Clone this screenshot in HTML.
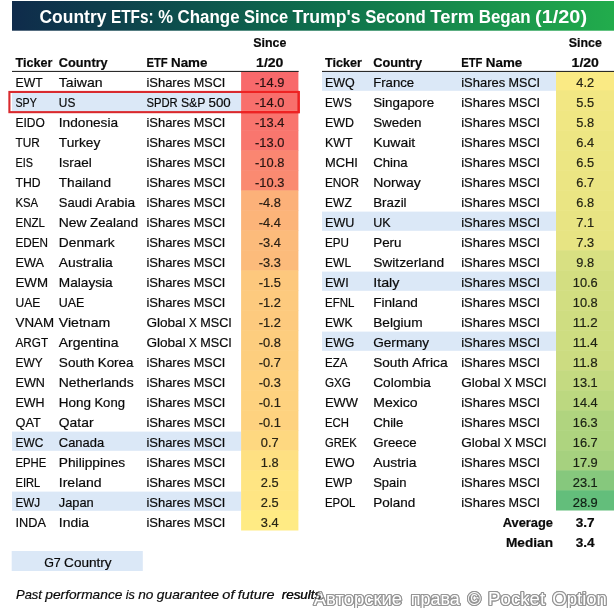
<!DOCTYPE html>
<html lang="en"><head><meta charset="utf-8"><title>Country ETFs</title>
<style>
html,body{margin:0;padding:0;background:#fff;}
body{width:614px;height:608px;overflow:hidden;}
svg{display:block;font-family:"Liberation Sans",sans-serif;}
</style></head><body>
<svg width="614" height="608" viewBox="0 0 614 608">
<defs><linearGradient id="tg" x1="0" y1="0" x2="1" y2="0"><stop offset="0" stop-color="#0f2b4b"/><stop offset="0.3" stop-color="#0d524d"/><stop offset="0.55" stop-color="#0f744c"/><stop offset="1" stop-color="#22ac4c"/></linearGradient></defs>
<rect x="12.00" y="1.00" width="602.00" height="29.70" fill="url(#tg)" />
<text y="22.70" font-size="18.0" fill="#ffffff" font-weight="bold" ><tspan x="39.50" textLength="66.92" lengthAdjust="spacingAndGlyphs">Country</tspan> <tspan x="110.98" textLength="42.72" lengthAdjust="spacingAndGlyphs">ETFs:</tspan> <tspan x="158.26" textLength="14.71" lengthAdjust="spacingAndGlyphs">%</tspan> <tspan x="177.53" textLength="62.03" lengthAdjust="spacingAndGlyphs">Change</tspan> <tspan x="244.12" textLength="43.93" lengthAdjust="spacingAndGlyphs">Since</tspan> <tspan x="292.61" textLength="68.00" lengthAdjust="spacingAndGlyphs">Trump&#x27;s</tspan> <tspan x="365.17" textLength="60.65" lengthAdjust="spacingAndGlyphs">Second</tspan> <tspan x="430.38" textLength="43.74" lengthAdjust="spacingAndGlyphs">Term</tspan> <tspan x="478.68" textLength="51.83" lengthAdjust="spacingAndGlyphs">Began</tspan> <tspan x="535.08" textLength="51.93" lengthAdjust="spacingAndGlyphs">(1/20)</tspan></text>
<rect x="241.10" y="71.60" width="57.30" height="20.50" fill="#f8696b" />
<rect x="12.00" y="91.60" width="229.10" height="20.00" fill="#dbe8f7" />
<rect x="241.10" y="90.40" width="57.30" height="20.50" fill="#f86f6c" />
<rect x="241.10" y="110.40" width="57.30" height="20.50" fill="#f9746d" />
<rect x="241.10" y="130.40" width="57.30" height="20.50" fill="#f9766e" />
<rect x="241.10" y="150.40" width="57.30" height="20.50" fill="#fa8671" />
<rect x="241.10" y="170.40" width="57.30" height="20.50" fill="#fa8a71" />
<rect x="241.10" y="190.40" width="57.30" height="20.50" fill="#fcb179" />
<rect x="241.10" y="210.40" width="57.30" height="20.50" fill="#fcb479" />
<rect x="241.10" y="230.40" width="57.30" height="20.50" fill="#fcbb7b" />
<rect x="241.10" y="250.40" width="57.30" height="20.50" fill="#fcbb7b" />
<rect x="241.10" y="270.40" width="57.30" height="20.50" fill="#fdc87d" />
<rect x="241.10" y="290.40" width="57.30" height="20.50" fill="#fdca7e" />
<rect x="241.10" y="310.40" width="57.30" height="20.50" fill="#fdca7e" />
<rect x="241.10" y="330.40" width="57.30" height="20.50" fill="#fdcd7e" />
<rect x="241.10" y="350.40" width="57.30" height="20.50" fill="#fdce7e" />
<rect x="241.10" y="370.40" width="57.30" height="20.50" fill="#fed17f" />
<rect x="241.10" y="390.40" width="57.30" height="20.50" fill="#fed27f" />
<rect x="241.10" y="410.40" width="57.30" height="20.50" fill="#fed27f" />
<rect x="12.00" y="431.60" width="229.10" height="19.20" fill="#dbe8f7" />
<rect x="241.10" y="430.40" width="57.30" height="20.50" fill="#fed880" />
<rect x="241.10" y="450.40" width="57.30" height="20.50" fill="#fee082" />
<rect x="241.10" y="470.40" width="57.30" height="20.50" fill="#ffe583" />
<rect x="12.00" y="491.60" width="229.10" height="19.20" fill="#dbe8f7" />
<rect x="241.10" y="490.40" width="57.30" height="20.50" fill="#ffe583" />
<rect x="241.10" y="510.40" width="57.30" height="20.10" fill="#ffeb84" />
<text x="253.21" y="46.50" font-size="13.2" fill="#0a0a0a" stroke="#0a0a0a" stroke-width="0.2" font-weight="bold" textLength="33.07" lengthAdjust="spacingAndGlyphs" >Since</text>
<text x="15.50" y="66.70" font-size="13.2" fill="#0a0a0a" stroke="#0a0a0a" stroke-width="0.2" font-weight="bold" textLength="36.85" lengthAdjust="spacingAndGlyphs" >Ticker</text>
<text x="58.80" y="66.70" font-size="13.2" fill="#0a0a0a" stroke="#0a0a0a" stroke-width="0.2" font-weight="bold" textLength="48.91" lengthAdjust="spacingAndGlyphs" >Country</text>
<text y="66.70" font-size="13.2" fill="#0a0a0a" stroke="#0a0a0a" stroke-width="0.2" font-weight="bold" ><tspan x="146.40" textLength="21.27" lengthAdjust="spacingAndGlyphs">ETF</tspan> <tspan x="171.00" textLength="36.42" lengthAdjust="spacingAndGlyphs">Name</tspan></text>
<text x="256.09" y="66.70" font-size="13.2" fill="#0a0a0a" stroke="#0a0a0a" stroke-width="0.2" font-weight="bold" textLength="27.33" lengthAdjust="spacingAndGlyphs" >1/20</text>
<rect x="12.00" y="70.90" width="286.70" height="1.00" fill="#151515" />
<text x="15.50" y="86.70" font-size="13.2" fill="#0a0a0a" stroke="#0a0a0a" stroke-width="0.2" textLength="27.14" lengthAdjust="spacingAndGlyphs" >EWT</text>
<text x="58.80" y="86.70" font-size="13.2" fill="#0a0a0a" stroke="#0a0a0a" stroke-width="0.2" textLength="43.73" lengthAdjust="spacingAndGlyphs" >Taiwan</text>
<text y="86.70" font-size="13.2" fill="#0a0a0a" stroke="#0a0a0a" stroke-width="0.2" ><tspan x="146.40" textLength="43.96" lengthAdjust="spacingAndGlyphs">iShares</tspan> <tspan x="193.75" textLength="31.49" lengthAdjust="spacingAndGlyphs">MSCI</tspan></text>
<text x="255.09" y="86.70" font-size="13.2" fill="#281111" stroke="#281111" stroke-width="0.2" textLength="29.32" lengthAdjust="spacingAndGlyphs" >-14.9</text>
<text x="15.50" y="106.70" font-size="13.2" fill="#0a0a0a" stroke="#0a0a0a" stroke-width="0.2" textLength="21.29" lengthAdjust="spacingAndGlyphs" >SPY</text>
<text x="58.80" y="106.70" font-size="13.2" fill="#0a0a0a" stroke="#0a0a0a" stroke-width="0.2" textLength="16.52" lengthAdjust="spacingAndGlyphs" >US</text>
<text y="106.70" font-size="13.2" fill="#0a0a0a" stroke="#0a0a0a" stroke-width="0.2" ><tspan x="146.40" textLength="31.21" lengthAdjust="spacingAndGlyphs">SPDR</tspan> <tspan x="180.92" textLength="24.25" lengthAdjust="spacingAndGlyphs">S&amp;P</tspan> <tspan x="208.48" textLength="22.24" lengthAdjust="spacingAndGlyphs">500</tspan></text>
<text x="255.09" y="106.70" font-size="13.2" fill="#281211" stroke="#281211" stroke-width="0.2" textLength="29.32" lengthAdjust="spacingAndGlyphs" >-14.0</text>
<text x="15.50" y="126.70" font-size="13.2" fill="#0a0a0a" stroke="#0a0a0a" stroke-width="0.2" textLength="29.36" lengthAdjust="spacingAndGlyphs" >EIDO</text>
<text x="58.80" y="126.70" font-size="13.2" fill="#0a0a0a" stroke="#0a0a0a" stroke-width="0.2" textLength="59.29" lengthAdjust="spacingAndGlyphs" >Indonesia</text>
<text y="126.70" font-size="13.2" fill="#0a0a0a" stroke="#0a0a0a" stroke-width="0.2" ><tspan x="146.40" textLength="43.96" lengthAdjust="spacingAndGlyphs">iShares</tspan> <tspan x="193.75" textLength="31.49" lengthAdjust="spacingAndGlyphs">MSCI</tspan></text>
<text x="255.09" y="126.70" font-size="13.2" fill="#281311" stroke="#281311" stroke-width="0.2" textLength="29.32" lengthAdjust="spacingAndGlyphs" >-13.4</text>
<text x="15.50" y="146.70" font-size="13.2" fill="#0a0a0a" stroke="#0a0a0a" stroke-width="0.2" textLength="24.33" lengthAdjust="spacingAndGlyphs" >TUR</text>
<text x="58.80" y="146.70" font-size="13.2" fill="#0a0a0a" stroke="#0a0a0a" stroke-width="0.2" textLength="41.49" lengthAdjust="spacingAndGlyphs" >Turkey</text>
<text y="146.70" font-size="13.2" fill="#0a0a0a" stroke="#0a0a0a" stroke-width="0.2" ><tspan x="146.40" textLength="43.96" lengthAdjust="spacingAndGlyphs">iShares</tspan> <tspan x="193.75" textLength="31.49" lengthAdjust="spacingAndGlyphs">MSCI</tspan></text>
<text x="255.09" y="146.70" font-size="13.2" fill="#281312" stroke="#281312" stroke-width="0.2" textLength="29.32" lengthAdjust="spacingAndGlyphs" >-13.0</text>
<text x="15.50" y="166.70" font-size="13.2" fill="#0a0a0a" stroke="#0a0a0a" stroke-width="0.2" textLength="17.46" lengthAdjust="spacingAndGlyphs" >EIS</text>
<text x="58.80" y="166.70" font-size="13.2" fill="#0a0a0a" stroke="#0a0a0a" stroke-width="0.2" textLength="32.97" lengthAdjust="spacingAndGlyphs" >Israel</text>
<text y="166.70" font-size="13.2" fill="#0a0a0a" stroke="#0a0a0a" stroke-width="0.2" ><tspan x="146.40" textLength="43.96" lengthAdjust="spacingAndGlyphs">iShares</tspan> <tspan x="193.75" textLength="31.49" lengthAdjust="spacingAndGlyphs">MSCI</tspan></text>
<text x="255.09" y="166.70" font-size="13.2" fill="#281512" stroke="#281512" stroke-width="0.2" textLength="29.32" lengthAdjust="spacingAndGlyphs" >-10.8</text>
<text x="15.50" y="186.70" font-size="13.2" fill="#0a0a0a" stroke="#0a0a0a" stroke-width="0.2" textLength="25.11" lengthAdjust="spacingAndGlyphs" >THD</text>
<text x="58.80" y="186.70" font-size="13.2" fill="#0a0a0a" stroke="#0a0a0a" stroke-width="0.2" textLength="52.21" lengthAdjust="spacingAndGlyphs" >Thailand</text>
<text y="186.70" font-size="13.2" fill="#0a0a0a" stroke="#0a0a0a" stroke-width="0.2" ><tspan x="146.40" textLength="43.96" lengthAdjust="spacingAndGlyphs">iShares</tspan> <tspan x="193.75" textLength="31.49" lengthAdjust="spacingAndGlyphs">MSCI</tspan></text>
<text x="255.09" y="186.70" font-size="13.2" fill="#281612" stroke="#281612" stroke-width="0.2" textLength="29.32" lengthAdjust="spacingAndGlyphs" >-10.3</text>
<text x="15.50" y="206.70" font-size="13.2" fill="#0a0a0a" stroke="#0a0a0a" stroke-width="0.2" textLength="22.66" lengthAdjust="spacingAndGlyphs" >KSA</text>
<text y="206.70" font-size="13.2" fill="#0a0a0a" stroke="#0a0a0a" stroke-width="0.2" ><tspan x="58.80" textLength="33.28" lengthAdjust="spacingAndGlyphs">Saudi</tspan> <tspan x="95.47" textLength="39.60" lengthAdjust="spacingAndGlyphs">Arabia</tspan></text>
<text y="206.70" font-size="13.2" fill="#0a0a0a" stroke="#0a0a0a" stroke-width="0.2" ><tspan x="146.40" textLength="43.96" lengthAdjust="spacingAndGlyphs">iShares</tspan> <tspan x="193.75" textLength="31.49" lengthAdjust="spacingAndGlyphs">MSCI</tspan></text>
<text x="258.67" y="206.70" font-size="13.2" fill="#281c13" stroke="#281c13" stroke-width="0.2" textLength="22.17" lengthAdjust="spacingAndGlyphs" >-4.8</text>
<text x="15.50" y="226.70" font-size="13.2" fill="#0a0a0a" stroke="#0a0a0a" stroke-width="0.2" textLength="29.43" lengthAdjust="spacingAndGlyphs" >ENZL</text>
<text y="226.70" font-size="13.2" fill="#0a0a0a" stroke="#0a0a0a" stroke-width="0.2" ><tspan x="58.80" textLength="27.87" lengthAdjust="spacingAndGlyphs">New</tspan> <tspan x="90.06" textLength="48.06" lengthAdjust="spacingAndGlyphs">Zealand</tspan></text>
<text y="226.70" font-size="13.2" fill="#0a0a0a" stroke="#0a0a0a" stroke-width="0.2" ><tspan x="146.40" textLength="43.96" lengthAdjust="spacingAndGlyphs">iShares</tspan> <tspan x="193.75" textLength="31.49" lengthAdjust="spacingAndGlyphs">MSCI</tspan></text>
<text x="258.67" y="226.70" font-size="13.2" fill="#281d13" stroke="#281d13" stroke-width="0.2" textLength="22.17" lengthAdjust="spacingAndGlyphs" >-4.4</text>
<text x="15.50" y="246.70" font-size="13.2" fill="#0a0a0a" stroke="#0a0a0a" stroke-width="0.2" textLength="32.55" lengthAdjust="spacingAndGlyphs" >EDEN</text>
<text x="58.80" y="246.70" font-size="13.2" fill="#0a0a0a" stroke="#0a0a0a" stroke-width="0.2" textLength="55.79" lengthAdjust="spacingAndGlyphs" >Denmark</text>
<text y="246.70" font-size="13.2" fill="#0a0a0a" stroke="#0a0a0a" stroke-width="0.2" ><tspan x="146.40" textLength="43.96" lengthAdjust="spacingAndGlyphs">iShares</tspan> <tspan x="193.75" textLength="31.49" lengthAdjust="spacingAndGlyphs">MSCI</tspan></text>
<text x="258.67" y="246.70" font-size="13.2" fill="#281e14" stroke="#281e14" stroke-width="0.2" textLength="22.17" lengthAdjust="spacingAndGlyphs" >-3.4</text>
<text x="15.50" y="266.70" font-size="13.2" fill="#0a0a0a" stroke="#0a0a0a" stroke-width="0.2" textLength="28.47" lengthAdjust="spacingAndGlyphs" >EWA</text>
<text x="58.80" y="266.70" font-size="13.2" fill="#0a0a0a" stroke="#0a0a0a" stroke-width="0.2" textLength="53.94" lengthAdjust="spacingAndGlyphs" >Australia</text>
<text y="266.70" font-size="13.2" fill="#0a0a0a" stroke="#0a0a0a" stroke-width="0.2" ><tspan x="146.40" textLength="43.96" lengthAdjust="spacingAndGlyphs">iShares</tspan> <tspan x="193.75" textLength="31.49" lengthAdjust="spacingAndGlyphs">MSCI</tspan></text>
<text x="258.67" y="266.70" font-size="13.2" fill="#281e14" stroke="#281e14" stroke-width="0.2" textLength="22.17" lengthAdjust="spacingAndGlyphs" >-3.3</text>
<text x="15.50" y="286.70" font-size="13.2" fill="#0a0a0a" stroke="#0a0a0a" stroke-width="0.2" textLength="32.49" lengthAdjust="spacingAndGlyphs" >EWM</text>
<text x="58.80" y="286.70" font-size="13.2" fill="#0a0a0a" stroke="#0a0a0a" stroke-width="0.2" textLength="53.92" lengthAdjust="spacingAndGlyphs" >Malaysia</text>
<text y="286.70" font-size="13.2" fill="#0a0a0a" stroke="#0a0a0a" stroke-width="0.2" ><tspan x="146.40" textLength="43.96" lengthAdjust="spacingAndGlyphs">iShares</tspan> <tspan x="193.75" textLength="31.49" lengthAdjust="spacingAndGlyphs">MSCI</tspan></text>
<text x="258.67" y="286.70" font-size="13.2" fill="#282014" stroke="#282014" stroke-width="0.2" textLength="22.17" lengthAdjust="spacingAndGlyphs" >-1.5</text>
<text x="15.50" y="306.70" font-size="13.2" fill="#0a0a0a" stroke="#0a0a0a" stroke-width="0.2" textLength="24.86" lengthAdjust="spacingAndGlyphs" >UAE</text>
<text x="58.80" y="306.70" font-size="13.2" fill="#0a0a0a" stroke="#0a0a0a" stroke-width="0.2" textLength="25.63" lengthAdjust="spacingAndGlyphs" >UAE</text>
<text y="306.70" font-size="13.2" fill="#0a0a0a" stroke="#0a0a0a" stroke-width="0.2" ><tspan x="146.40" textLength="43.96" lengthAdjust="spacingAndGlyphs">iShares</tspan> <tspan x="193.75" textLength="31.49" lengthAdjust="spacingAndGlyphs">MSCI</tspan></text>
<text x="258.67" y="306.70" font-size="13.2" fill="#282014" stroke="#282014" stroke-width="0.2" textLength="22.17" lengthAdjust="spacingAndGlyphs" >-1.2</text>
<text x="15.50" y="326.70" font-size="13.2" fill="#0a0a0a" stroke="#0a0a0a" stroke-width="0.2" textLength="38.51" lengthAdjust="spacingAndGlyphs" >VNAM</text>
<text x="58.80" y="326.70" font-size="13.2" fill="#0a0a0a" stroke="#0a0a0a" stroke-width="0.2" textLength="51.49" lengthAdjust="spacingAndGlyphs" >Vietnam</text>
<text y="326.70" font-size="13.2" fill="#0a0a0a" stroke="#0a0a0a" stroke-width="0.2" ><tspan x="146.40" textLength="39.32" lengthAdjust="spacingAndGlyphs">Global</tspan> <tspan x="189.12" textLength="7.79" lengthAdjust="spacingAndGlyphs">X</tspan> <tspan x="200.29" textLength="31.49" lengthAdjust="spacingAndGlyphs">MSCI</tspan></text>
<text x="258.67" y="326.70" font-size="13.2" fill="#282014" stroke="#282014" stroke-width="0.2" textLength="22.17" lengthAdjust="spacingAndGlyphs" >-1.2</text>
<text x="15.50" y="346.70" font-size="13.2" fill="#0a0a0a" stroke="#0a0a0a" stroke-width="0.2" textLength="32.59" lengthAdjust="spacingAndGlyphs" >ARGT</text>
<text x="58.80" y="346.70" font-size="13.2" fill="#0a0a0a" stroke="#0a0a0a" stroke-width="0.2" textLength="59.85" lengthAdjust="spacingAndGlyphs" >Argentina</text>
<text y="346.70" font-size="13.2" fill="#0a0a0a" stroke="#0a0a0a" stroke-width="0.2" ><tspan x="146.40" textLength="39.32" lengthAdjust="spacingAndGlyphs">Global</tspan> <tspan x="189.12" textLength="7.79" lengthAdjust="spacingAndGlyphs">X</tspan> <tspan x="200.29" textLength="31.49" lengthAdjust="spacingAndGlyphs">MSCI</tspan></text>
<text x="258.67" y="346.70" font-size="13.2" fill="#282114" stroke="#282114" stroke-width="0.2" textLength="22.17" lengthAdjust="spacingAndGlyphs" >-0.8</text>
<text x="15.50" y="366.70" font-size="13.2" fill="#0a0a0a" stroke="#0a0a0a" stroke-width="0.2" textLength="27.14" lengthAdjust="spacingAndGlyphs" >EWY</text>
<text y="366.70" font-size="13.2" fill="#0a0a0a" stroke="#0a0a0a" stroke-width="0.2" ><tspan x="58.80" textLength="35.59" lengthAdjust="spacingAndGlyphs">South</tspan> <tspan x="97.78" textLength="35.58" lengthAdjust="spacingAndGlyphs">Korea</tspan></text>
<text y="366.70" font-size="13.2" fill="#0a0a0a" stroke="#0a0a0a" stroke-width="0.2" ><tspan x="146.40" textLength="43.96" lengthAdjust="spacingAndGlyphs">iShares</tspan> <tspan x="193.75" textLength="31.49" lengthAdjust="spacingAndGlyphs">MSCI</tspan></text>
<text x="258.67" y="366.70" font-size="13.2" fill="#282114" stroke="#282114" stroke-width="0.2" textLength="22.17" lengthAdjust="spacingAndGlyphs" >-0.7</text>
<text x="15.50" y="386.70" font-size="13.2" fill="#0a0a0a" stroke="#0a0a0a" stroke-width="0.2" textLength="29.44" lengthAdjust="spacingAndGlyphs" >EWN</text>
<text x="58.80" y="386.70" font-size="13.2" fill="#0a0a0a" stroke="#0a0a0a" stroke-width="0.2" textLength="75.00" lengthAdjust="spacingAndGlyphs" >Netherlands</text>
<text y="386.70" font-size="13.2" fill="#0a0a0a" stroke="#0a0a0a" stroke-width="0.2" ><tspan x="146.40" textLength="43.96" lengthAdjust="spacingAndGlyphs">iShares</tspan> <tspan x="193.75" textLength="31.49" lengthAdjust="spacingAndGlyphs">MSCI</tspan></text>
<text x="258.67" y="386.70" font-size="13.2" fill="#292114" stroke="#292114" stroke-width="0.2" textLength="22.17" lengthAdjust="spacingAndGlyphs" >-0.3</text>
<text x="15.50" y="406.70" font-size="13.2" fill="#0a0a0a" stroke="#0a0a0a" stroke-width="0.2" textLength="29.11" lengthAdjust="spacingAndGlyphs" >EWH</text>
<text y="406.70" font-size="13.2" fill="#0a0a0a" stroke="#0a0a0a" stroke-width="0.2" ><tspan x="58.80" textLength="32.20" lengthAdjust="spacingAndGlyphs">Hong</tspan> <tspan x="94.39" textLength="30.64" lengthAdjust="spacingAndGlyphs">Kong</tspan></text>
<text y="406.70" font-size="13.2" fill="#0a0a0a" stroke="#0a0a0a" stroke-width="0.2" ><tspan x="146.40" textLength="43.96" lengthAdjust="spacingAndGlyphs">iShares</tspan> <tspan x="193.75" textLength="31.49" lengthAdjust="spacingAndGlyphs">MSCI</tspan></text>
<text x="258.67" y="406.70" font-size="13.2" fill="#292214" stroke="#292214" stroke-width="0.2" textLength="22.17" lengthAdjust="spacingAndGlyphs" >-0.1</text>
<text x="15.50" y="426.70" font-size="13.2" fill="#0a0a0a" stroke="#0a0a0a" stroke-width="0.2" textLength="25.30" lengthAdjust="spacingAndGlyphs" >QAT</text>
<text x="58.80" y="426.70" font-size="13.2" fill="#0a0a0a" stroke="#0a0a0a" stroke-width="0.2" textLength="34.72" lengthAdjust="spacingAndGlyphs" >Qatar</text>
<text y="426.70" font-size="13.2" fill="#0a0a0a" stroke="#0a0a0a" stroke-width="0.2" ><tspan x="146.40" textLength="43.96" lengthAdjust="spacingAndGlyphs">iShares</tspan> <tspan x="193.75" textLength="31.49" lengthAdjust="spacingAndGlyphs">MSCI</tspan></text>
<text x="258.67" y="426.70" font-size="13.2" fill="#292214" stroke="#292214" stroke-width="0.2" textLength="22.17" lengthAdjust="spacingAndGlyphs" >-0.1</text>
<text x="15.50" y="446.70" font-size="13.2" fill="#0a0a0a" stroke="#0a0a0a" stroke-width="0.2" textLength="27.81" lengthAdjust="spacingAndGlyphs" >EWC</text>
<text x="58.80" y="446.70" font-size="13.2" fill="#0a0a0a" stroke="#0a0a0a" stroke-width="0.2" textLength="45.31" lengthAdjust="spacingAndGlyphs" >Canada</text>
<text y="446.70" font-size="13.2" fill="#0a0a0a" stroke="#0a0a0a" stroke-width="0.2" ><tspan x="146.40" textLength="43.96" lengthAdjust="spacingAndGlyphs">iShares</tspan> <tspan x="193.75" textLength="31.49" lengthAdjust="spacingAndGlyphs">MSCI</tspan></text>
<text x="260.82" y="446.70" font-size="13.2" fill="#292314" stroke="#292314" stroke-width="0.2" textLength="17.85" lengthAdjust="spacingAndGlyphs" >0.7</text>
<text x="15.50" y="466.70" font-size="13.2" fill="#0a0a0a" stroke="#0a0a0a" stroke-width="0.2" textLength="30.79" lengthAdjust="spacingAndGlyphs" >EPHE</text>
<text x="58.80" y="466.70" font-size="13.2" fill="#0a0a0a" stroke="#0a0a0a" stroke-width="0.2" textLength="66.37" lengthAdjust="spacingAndGlyphs" >Philippines</text>
<text y="466.70" font-size="13.2" fill="#0a0a0a" stroke="#0a0a0a" stroke-width="0.2" ><tspan x="146.40" textLength="43.96" lengthAdjust="spacingAndGlyphs">iShares</tspan> <tspan x="193.75" textLength="31.49" lengthAdjust="spacingAndGlyphs">MSCI</tspan></text>
<text x="260.82" y="466.70" font-size="13.2" fill="#292415" stroke="#292415" stroke-width="0.2" textLength="17.85" lengthAdjust="spacingAndGlyphs" >1.8</text>
<text x="15.50" y="486.70" font-size="13.2" fill="#0a0a0a" stroke="#0a0a0a" stroke-width="0.2" textLength="24.79" lengthAdjust="spacingAndGlyphs" >EIRL</text>
<text x="58.80" y="486.70" font-size="13.2" fill="#0a0a0a" stroke="#0a0a0a" stroke-width="0.2" textLength="42.86" lengthAdjust="spacingAndGlyphs" >Ireland</text>
<text y="486.70" font-size="13.2" fill="#0a0a0a" stroke="#0a0a0a" stroke-width="0.2" ><tspan x="146.40" textLength="43.96" lengthAdjust="spacingAndGlyphs">iShares</tspan> <tspan x="193.75" textLength="31.49" lengthAdjust="spacingAndGlyphs">MSCI</tspan></text>
<text x="260.82" y="486.70" font-size="13.2" fill="#292515" stroke="#292515" stroke-width="0.2" textLength="17.85" lengthAdjust="spacingAndGlyphs" >2.5</text>
<text x="15.50" y="506.70" font-size="13.2" fill="#0a0a0a" stroke="#0a0a0a" stroke-width="0.2" textLength="24.69" lengthAdjust="spacingAndGlyphs" >EWJ</text>
<text x="58.80" y="506.70" font-size="13.2" fill="#0a0a0a" stroke="#0a0a0a" stroke-width="0.2" textLength="34.91" lengthAdjust="spacingAndGlyphs" >Japan</text>
<text y="506.70" font-size="13.2" fill="#0a0a0a" stroke="#0a0a0a" stroke-width="0.2" ><tspan x="146.40" textLength="43.96" lengthAdjust="spacingAndGlyphs">iShares</tspan> <tspan x="193.75" textLength="31.49" lengthAdjust="spacingAndGlyphs">MSCI</tspan></text>
<text x="260.82" y="506.70" font-size="13.2" fill="#292515" stroke="#292515" stroke-width="0.2" textLength="17.85" lengthAdjust="spacingAndGlyphs" >2.5</text>
<text x="15.50" y="526.70" font-size="13.2" fill="#0a0a0a" stroke="#0a0a0a" stroke-width="0.2" textLength="30.43" lengthAdjust="spacingAndGlyphs" >INDA</text>
<text x="58.80" y="526.70" font-size="13.2" fill="#0a0a0a" stroke="#0a0a0a" stroke-width="0.2" textLength="30.17" lengthAdjust="spacingAndGlyphs" >India</text>
<text y="526.70" font-size="13.2" fill="#0a0a0a" stroke="#0a0a0a" stroke-width="0.2" ><tspan x="146.40" textLength="43.96" lengthAdjust="spacingAndGlyphs">iShares</tspan> <tspan x="193.75" textLength="31.49" lengthAdjust="spacingAndGlyphs">MSCI</tspan></text>
<text x="260.82" y="526.70" font-size="13.2" fill="#292615" stroke="#292615" stroke-width="0.2" textLength="17.85" lengthAdjust="spacingAndGlyphs" >3.4</text>
<rect x="322.00" y="71.60" width="234.00" height="19.20" fill="#dbe8f7" />
<rect x="556.00" y="71.60" width="58.50" height="20.50" fill="#faea84" />
<rect x="556.00" y="90.40" width="58.50" height="20.50" fill="#f2e783" />
<rect x="556.00" y="110.40" width="58.50" height="20.50" fill="#f0e783" />
<rect x="556.00" y="130.40" width="58.50" height="20.50" fill="#ede683" />
<rect x="556.00" y="150.40" width="58.50" height="20.50" fill="#ece683" />
<rect x="556.00" y="170.40" width="58.50" height="20.50" fill="#ebe583" />
<rect x="556.00" y="190.40" width="58.50" height="20.50" fill="#eae583" />
<rect x="322.00" y="211.60" width="234.00" height="19.20" fill="#dbe8f7" />
<rect x="556.00" y="210.40" width="58.50" height="20.50" fill="#e8e483" />
<rect x="556.00" y="230.40" width="58.50" height="20.50" fill="#e7e483" />
<rect x="556.00" y="250.40" width="58.50" height="20.50" fill="#d8e082" />
<rect x="322.00" y="271.60" width="234.00" height="19.20" fill="#dbe8f7" />
<rect x="556.00" y="270.40" width="58.50" height="20.50" fill="#d3de81" />
<rect x="556.00" y="290.40" width="58.50" height="20.50" fill="#d2de81" />
<rect x="556.00" y="310.40" width="58.50" height="20.50" fill="#cfdd81" />
<rect x="322.00" y="331.60" width="234.00" height="19.20" fill="#dbe8f7" />
<rect x="556.00" y="330.40" width="58.50" height="20.50" fill="#cedd81" />
<rect x="556.00" y="350.40" width="58.50" height="20.50" fill="#ccdc81" />
<rect x="556.00" y="370.40" width="58.50" height="20.50" fill="#c4da81" />
<rect x="556.00" y="390.40" width="58.50" height="20.50" fill="#bcd880" />
<rect x="556.00" y="410.40" width="58.50" height="20.50" fill="#b0d47f" />
<rect x="556.00" y="430.40" width="58.50" height="20.50" fill="#aed47f" />
<rect x="556.00" y="450.40" width="58.50" height="20.50" fill="#a6d17f" />
<rect x="556.00" y="470.40" width="58.50" height="20.50" fill="#86c87d" />
<rect x="556.00" y="490.40" width="58.50" height="20.10" fill="#63be7b" />
<text x="568.71" y="46.50" font-size="13.2" fill="#0a0a0a" stroke="#0a0a0a" stroke-width="0.2" font-weight="bold" textLength="33.07" lengthAdjust="spacingAndGlyphs" >Since</text>
<text x="325.00" y="66.70" font-size="13.2" fill="#0a0a0a" stroke="#0a0a0a" stroke-width="0.2" font-weight="bold" textLength="36.85" lengthAdjust="spacingAndGlyphs" >Ticker</text>
<text x="373.20" y="66.70" font-size="13.2" fill="#0a0a0a" stroke="#0a0a0a" stroke-width="0.2" font-weight="bold" textLength="48.91" lengthAdjust="spacingAndGlyphs" >Country</text>
<text y="66.70" font-size="13.2" fill="#0a0a0a" stroke="#0a0a0a" stroke-width="0.2" font-weight="bold" ><tspan x="461.20" textLength="21.27" lengthAdjust="spacingAndGlyphs">ETF</tspan> <tspan x="485.80" textLength="36.42" lengthAdjust="spacingAndGlyphs">Name</tspan></text>
<text x="571.59" y="66.70" font-size="13.2" fill="#0a0a0a" stroke="#0a0a0a" stroke-width="0.2" font-weight="bold" textLength="27.33" lengthAdjust="spacingAndGlyphs" >1/20</text>
<rect x="322.00" y="70.90" width="292.50" height="1.00" fill="#151515" />
<text x="325.00" y="86.70" font-size="13.2" fill="#0a0a0a" stroke="#0a0a0a" stroke-width="0.2" textLength="29.84" lengthAdjust="spacingAndGlyphs" >EWQ</text>
<text x="373.20" y="86.70" font-size="13.2" fill="#0a0a0a" stroke="#0a0a0a" stroke-width="0.2" textLength="40.99" lengthAdjust="spacingAndGlyphs" >France</text>
<text y="86.70" font-size="13.2" fill="#0a0a0a" stroke="#0a0a0a" stroke-width="0.2" ><tspan x="461.20" textLength="43.96" lengthAdjust="spacingAndGlyphs">iShares</tspan> <tspan x="508.55" textLength="31.49" lengthAdjust="spacingAndGlyphs">MSCI</tspan></text>
<text x="576.32" y="86.70" font-size="13.2" fill="#282515" stroke="#282515" stroke-width="0.2" textLength="17.85" lengthAdjust="spacingAndGlyphs" >4.2</text>
<text x="325.00" y="106.70" font-size="13.2" fill="#0a0a0a" stroke="#0a0a0a" stroke-width="0.2" textLength="26.73" lengthAdjust="spacingAndGlyphs" >EWS</text>
<text x="373.20" y="106.70" font-size="13.2" fill="#0a0a0a" stroke="#0a0a0a" stroke-width="0.2" textLength="60.95" lengthAdjust="spacingAndGlyphs" >Singapore</text>
<text y="106.70" font-size="13.2" fill="#0a0a0a" stroke="#0a0a0a" stroke-width="0.2" ><tspan x="461.20" textLength="43.96" lengthAdjust="spacingAndGlyphs">iShares</tspan> <tspan x="508.55" textLength="31.49" lengthAdjust="spacingAndGlyphs">MSCI</tspan></text>
<text x="576.32" y="106.70" font-size="13.2" fill="#272515" stroke="#272515" stroke-width="0.2" textLength="17.85" lengthAdjust="spacingAndGlyphs" >5.5</text>
<text x="325.00" y="126.70" font-size="13.2" fill="#0a0a0a" stroke="#0a0a0a" stroke-width="0.2" textLength="29.00" lengthAdjust="spacingAndGlyphs" >EWD</text>
<text x="373.20" y="126.70" font-size="13.2" fill="#0a0a0a" stroke="#0a0a0a" stroke-width="0.2" textLength="48.30" lengthAdjust="spacingAndGlyphs" >Sweden</text>
<text y="126.70" font-size="13.2" fill="#0a0a0a" stroke="#0a0a0a" stroke-width="0.2" ><tspan x="461.20" textLength="43.96" lengthAdjust="spacingAndGlyphs">iShares</tspan> <tspan x="508.55" textLength="31.49" lengthAdjust="spacingAndGlyphs">MSCI</tspan></text>
<text x="576.32" y="126.70" font-size="13.2" fill="#262515" stroke="#262515" stroke-width="0.2" textLength="17.85" lengthAdjust="spacingAndGlyphs" >5.8</text>
<text x="325.00" y="146.70" font-size="13.2" fill="#0a0a0a" stroke="#0a0a0a" stroke-width="0.2" textLength="27.59" lengthAdjust="spacingAndGlyphs" >KWT</text>
<text x="373.20" y="146.70" font-size="13.2" fill="#0a0a0a" stroke="#0a0a0a" stroke-width="0.2" textLength="42.05" lengthAdjust="spacingAndGlyphs" >Kuwait</text>
<text y="146.70" font-size="13.2" fill="#0a0a0a" stroke="#0a0a0a" stroke-width="0.2" ><tspan x="461.20" textLength="43.96" lengthAdjust="spacingAndGlyphs">iShares</tspan> <tspan x="508.55" textLength="31.49" lengthAdjust="spacingAndGlyphs">MSCI</tspan></text>
<text x="576.32" y="146.70" font-size="13.2" fill="#262515" stroke="#262515" stroke-width="0.2" textLength="17.85" lengthAdjust="spacingAndGlyphs" >6.4</text>
<text x="325.00" y="166.70" font-size="13.2" fill="#0a0a0a" stroke="#0a0a0a" stroke-width="0.2" textLength="32.93" lengthAdjust="spacingAndGlyphs" >MCHI</text>
<text x="373.20" y="166.70" font-size="13.2" fill="#0a0a0a" stroke="#0a0a0a" stroke-width="0.2" textLength="34.39" lengthAdjust="spacingAndGlyphs" >China</text>
<text y="166.70" font-size="13.2" fill="#0a0a0a" stroke="#0a0a0a" stroke-width="0.2" ><tspan x="461.20" textLength="43.96" lengthAdjust="spacingAndGlyphs">iShares</tspan> <tspan x="508.55" textLength="31.49" lengthAdjust="spacingAndGlyphs">MSCI</tspan></text>
<text x="576.32" y="166.70" font-size="13.2" fill="#262515" stroke="#262515" stroke-width="0.2" textLength="17.85" lengthAdjust="spacingAndGlyphs" >6.5</text>
<text x="325.00" y="186.70" font-size="13.2" fill="#0a0a0a" stroke="#0a0a0a" stroke-width="0.2" textLength="34.03" lengthAdjust="spacingAndGlyphs" >ENOR</text>
<text x="373.20" y="186.70" font-size="13.2" fill="#0a0a0a" stroke="#0a0a0a" stroke-width="0.2" textLength="47.52" lengthAdjust="spacingAndGlyphs" >Norway</text>
<text y="186.70" font-size="13.2" fill="#0a0a0a" stroke="#0a0a0a" stroke-width="0.2" ><tspan x="461.20" textLength="43.96" lengthAdjust="spacingAndGlyphs">iShares</tspan> <tspan x="508.55" textLength="31.49" lengthAdjust="spacingAndGlyphs">MSCI</tspan></text>
<text x="576.32" y="186.70" font-size="13.2" fill="#262515" stroke="#262515" stroke-width="0.2" textLength="17.85" lengthAdjust="spacingAndGlyphs" >6.7</text>
<text x="325.00" y="206.70" font-size="13.2" fill="#0a0a0a" stroke="#0a0a0a" stroke-width="0.2" textLength="26.86" lengthAdjust="spacingAndGlyphs" >EWZ</text>
<text x="373.20" y="206.70" font-size="13.2" fill="#0a0a0a" stroke="#0a0a0a" stroke-width="0.2" textLength="33.38" lengthAdjust="spacingAndGlyphs" >Brazil</text>
<text y="206.70" font-size="13.2" fill="#0a0a0a" stroke="#0a0a0a" stroke-width="0.2" ><tspan x="461.20" textLength="43.96" lengthAdjust="spacingAndGlyphs">iShares</tspan> <tspan x="508.55" textLength="31.49" lengthAdjust="spacingAndGlyphs">MSCI</tspan></text>
<text x="576.32" y="206.70" font-size="13.2" fill="#252515" stroke="#252515" stroke-width="0.2" textLength="17.85" lengthAdjust="spacingAndGlyphs" >6.8</text>
<text x="325.00" y="226.70" font-size="13.2" fill="#0a0a0a" stroke="#0a0a0a" stroke-width="0.2" textLength="29.38" lengthAdjust="spacingAndGlyphs" >EWU</text>
<text x="373.20" y="226.70" font-size="13.2" fill="#0a0a0a" stroke="#0a0a0a" stroke-width="0.2" textLength="17.42" lengthAdjust="spacingAndGlyphs" >UK</text>
<text y="226.70" font-size="13.2" fill="#0a0a0a" stroke="#0a0a0a" stroke-width="0.2" ><tspan x="461.20" textLength="43.96" lengthAdjust="spacingAndGlyphs">iShares</tspan> <tspan x="508.55" textLength="31.49" lengthAdjust="spacingAndGlyphs">MSCI</tspan></text>
<text x="576.32" y="226.70" font-size="13.2" fill="#252415" stroke="#252415" stroke-width="0.2" textLength="17.85" lengthAdjust="spacingAndGlyphs" >7.1</text>
<text x="325.00" y="246.70" font-size="13.2" fill="#0a0a0a" stroke="#0a0a0a" stroke-width="0.2" textLength="23.96" lengthAdjust="spacingAndGlyphs" >EPU</text>
<text x="373.20" y="246.70" font-size="13.2" fill="#0a0a0a" stroke="#0a0a0a" stroke-width="0.2" textLength="28.32" lengthAdjust="spacingAndGlyphs" >Peru</text>
<text y="246.70" font-size="13.2" fill="#0a0a0a" stroke="#0a0a0a" stroke-width="0.2" ><tspan x="461.20" textLength="43.96" lengthAdjust="spacingAndGlyphs">iShares</tspan> <tspan x="508.55" textLength="31.49" lengthAdjust="spacingAndGlyphs">MSCI</tspan></text>
<text x="576.32" y="246.70" font-size="13.2" fill="#252415" stroke="#252415" stroke-width="0.2" textLength="17.85" lengthAdjust="spacingAndGlyphs" >7.3</text>
<text x="325.00" y="266.70" font-size="13.2" fill="#0a0a0a" stroke="#0a0a0a" stroke-width="0.2" textLength="26.17" lengthAdjust="spacingAndGlyphs" >EWL</text>
<text x="373.20" y="266.70" font-size="13.2" fill="#0a0a0a" stroke="#0a0a0a" stroke-width="0.2" textLength="71.09" lengthAdjust="spacingAndGlyphs" >Switzerland</text>
<text y="266.70" font-size="13.2" fill="#0a0a0a" stroke="#0a0a0a" stroke-width="0.2" ><tspan x="461.20" textLength="43.96" lengthAdjust="spacingAndGlyphs">iShares</tspan> <tspan x="508.55" textLength="31.49" lengthAdjust="spacingAndGlyphs">MSCI</tspan></text>
<text x="576.32" y="266.70" font-size="13.2" fill="#232415" stroke="#232415" stroke-width="0.2" textLength="17.85" lengthAdjust="spacingAndGlyphs" >9.8</text>
<text x="325.00" y="286.70" font-size="13.2" fill="#0a0a0a" stroke="#0a0a0a" stroke-width="0.2" textLength="23.71" lengthAdjust="spacingAndGlyphs" >EWI</text>
<text x="373.20" y="286.70" font-size="13.2" fill="#0a0a0a" stroke="#0a0a0a" stroke-width="0.2" textLength="26.22" lengthAdjust="spacingAndGlyphs" >Italy</text>
<text y="286.70" font-size="13.2" fill="#0a0a0a" stroke="#0a0a0a" stroke-width="0.2" ><tspan x="461.20" textLength="43.96" lengthAdjust="spacingAndGlyphs">iShares</tspan> <tspan x="508.55" textLength="31.49" lengthAdjust="spacingAndGlyphs">MSCI</tspan></text>
<text x="572.75" y="286.70" font-size="13.2" fill="#222415" stroke="#222415" stroke-width="0.2" textLength="25.00" lengthAdjust="spacingAndGlyphs" >10.6</text>
<text x="325.00" y="306.70" font-size="13.2" fill="#0a0a0a" stroke="#0a0a0a" stroke-width="0.2" textLength="29.30" lengthAdjust="spacingAndGlyphs" >EFNL</text>
<text x="373.20" y="306.70" font-size="13.2" fill="#0a0a0a" stroke="#0a0a0a" stroke-width="0.2" textLength="44.60" lengthAdjust="spacingAndGlyphs" >Finland</text>
<text y="306.70" font-size="13.2" fill="#0a0a0a" stroke="#0a0a0a" stroke-width="0.2" ><tspan x="461.20" textLength="43.96" lengthAdjust="spacingAndGlyphs">iShares</tspan> <tspan x="508.55" textLength="31.49" lengthAdjust="spacingAndGlyphs">MSCI</tspan></text>
<text x="572.75" y="306.70" font-size="13.2" fill="#222415" stroke="#222415" stroke-width="0.2" textLength="25.00" lengthAdjust="spacingAndGlyphs" >10.8</text>
<text x="325.00" y="326.70" font-size="13.2" fill="#0a0a0a" stroke="#0a0a0a" stroke-width="0.2" textLength="27.61" lengthAdjust="spacingAndGlyphs" >EWK</text>
<text x="373.20" y="326.70" font-size="13.2" fill="#0a0a0a" stroke="#0a0a0a" stroke-width="0.2" textLength="49.43" lengthAdjust="spacingAndGlyphs" >Belgium</text>
<text y="326.70" font-size="13.2" fill="#0a0a0a" stroke="#0a0a0a" stroke-width="0.2" ><tspan x="461.20" textLength="43.96" lengthAdjust="spacingAndGlyphs">iShares</tspan> <tspan x="508.55" textLength="31.49" lengthAdjust="spacingAndGlyphs">MSCI</tspan></text>
<text x="572.75" y="326.70" font-size="13.2" fill="#212315" stroke="#212315" stroke-width="0.2" textLength="25.00" lengthAdjust="spacingAndGlyphs" >11.2</text>
<text x="325.00" y="346.70" font-size="13.2" fill="#0a0a0a" stroke="#0a0a0a" stroke-width="0.2" textLength="29.23" lengthAdjust="spacingAndGlyphs" >EWG</text>
<text x="373.20" y="346.70" font-size="13.2" fill="#0a0a0a" stroke="#0a0a0a" stroke-width="0.2" textLength="55.99" lengthAdjust="spacingAndGlyphs" >Germany</text>
<text y="346.70" font-size="13.2" fill="#0a0a0a" stroke="#0a0a0a" stroke-width="0.2" ><tspan x="461.20" textLength="43.96" lengthAdjust="spacingAndGlyphs">iShares</tspan> <tspan x="508.55" textLength="31.49" lengthAdjust="spacingAndGlyphs">MSCI</tspan></text>
<text x="572.75" y="346.70" font-size="13.2" fill="#212315" stroke="#212315" stroke-width="0.2" textLength="25.00" lengthAdjust="spacingAndGlyphs" >11.4</text>
<text x="325.00" y="366.70" font-size="13.2" fill="#0a0a0a" stroke="#0a0a0a" stroke-width="0.2" textLength="22.34" lengthAdjust="spacingAndGlyphs" >EZA</text>
<text y="366.70" font-size="13.2" fill="#0a0a0a" stroke="#0a0a0a" stroke-width="0.2" ><tspan x="373.20" textLength="35.59" lengthAdjust="spacingAndGlyphs">South</tspan> <tspan x="412.18" textLength="35.46" lengthAdjust="spacingAndGlyphs">Africa</tspan></text>
<text y="366.70" font-size="13.2" fill="#0a0a0a" stroke="#0a0a0a" stroke-width="0.2" ><tspan x="461.20" textLength="43.96" lengthAdjust="spacingAndGlyphs">iShares</tspan> <tspan x="508.55" textLength="31.49" lengthAdjust="spacingAndGlyphs">MSCI</tspan></text>
<text x="572.75" y="366.70" font-size="13.2" fill="#212315" stroke="#212315" stroke-width="0.2" textLength="25.00" lengthAdjust="spacingAndGlyphs" >11.8</text>
<text x="325.00" y="386.70" font-size="13.2" fill="#0a0a0a" stroke="#0a0a0a" stroke-width="0.2" textLength="25.91" lengthAdjust="spacingAndGlyphs" >GXG</text>
<text x="373.20" y="386.70" font-size="13.2" fill="#0a0a0a" stroke="#0a0a0a" stroke-width="0.2" textLength="57.75" lengthAdjust="spacingAndGlyphs" >Colombia</text>
<text y="386.70" font-size="13.2" fill="#0a0a0a" stroke="#0a0a0a" stroke-width="0.2" ><tspan x="461.20" textLength="39.32" lengthAdjust="spacingAndGlyphs">Global</tspan> <tspan x="503.92" textLength="7.79" lengthAdjust="spacingAndGlyphs">X</tspan> <tspan x="515.09" textLength="31.49" lengthAdjust="spacingAndGlyphs">MSCI</tspan></text>
<text x="572.75" y="386.70" font-size="13.2" fill="#1f2315" stroke="#1f2315" stroke-width="0.2" textLength="25.00" lengthAdjust="spacingAndGlyphs" >13.1</text>
<text x="325.00" y="406.70" font-size="13.2" fill="#0a0a0a" stroke="#0a0a0a" stroke-width="0.2" textLength="32.99" lengthAdjust="spacingAndGlyphs" >EWW</text>
<text x="373.20" y="406.70" font-size="13.2" fill="#0a0a0a" stroke="#0a0a0a" stroke-width="0.2" textLength="44.48" lengthAdjust="spacingAndGlyphs" >Mexico</text>
<text y="406.70" font-size="13.2" fill="#0a0a0a" stroke="#0a0a0a" stroke-width="0.2" ><tspan x="461.20" textLength="43.96" lengthAdjust="spacingAndGlyphs">iShares</tspan> <tspan x="508.55" textLength="31.49" lengthAdjust="spacingAndGlyphs">MSCI</tspan></text>
<text x="572.75" y="406.70" font-size="13.2" fill="#1e2314" stroke="#1e2314" stroke-width="0.2" textLength="25.00" lengthAdjust="spacingAndGlyphs" >14.4</text>
<text x="325.00" y="426.70" font-size="13.2" fill="#0a0a0a" stroke="#0a0a0a" stroke-width="0.2" textLength="23.93" lengthAdjust="spacingAndGlyphs" >ECH</text>
<text x="373.20" y="426.70" font-size="13.2" fill="#0a0a0a" stroke="#0a0a0a" stroke-width="0.2" textLength="30.23" lengthAdjust="spacingAndGlyphs" >Chile</text>
<text y="426.70" font-size="13.2" fill="#0a0a0a" stroke="#0a0a0a" stroke-width="0.2" ><tspan x="461.20" textLength="43.96" lengthAdjust="spacingAndGlyphs">iShares</tspan> <tspan x="508.55" textLength="31.49" lengthAdjust="spacingAndGlyphs">MSCI</tspan></text>
<text x="572.75" y="426.70" font-size="13.2" fill="#1c2214" stroke="#1c2214" stroke-width="0.2" textLength="25.00" lengthAdjust="spacingAndGlyphs" >16.3</text>
<text x="325.00" y="446.70" font-size="13.2" fill="#0a0a0a" stroke="#0a0a0a" stroke-width="0.2" textLength="31.74" lengthAdjust="spacingAndGlyphs" >GREK</text>
<text x="373.20" y="446.70" font-size="13.2" fill="#0a0a0a" stroke="#0a0a0a" stroke-width="0.2" textLength="43.43" lengthAdjust="spacingAndGlyphs" >Greece</text>
<text y="446.70" font-size="13.2" fill="#0a0a0a" stroke="#0a0a0a" stroke-width="0.2" ><tspan x="461.20" textLength="39.32" lengthAdjust="spacingAndGlyphs">Global</tspan> <tspan x="503.92" textLength="7.79" lengthAdjust="spacingAndGlyphs">X</tspan> <tspan x="515.09" textLength="31.49" lengthAdjust="spacingAndGlyphs">MSCI</tspan></text>
<text x="572.75" y="446.70" font-size="13.2" fill="#1c2214" stroke="#1c2214" stroke-width="0.2" textLength="25.00" lengthAdjust="spacingAndGlyphs" >16.7</text>
<text x="325.00" y="466.70" font-size="13.2" fill="#0a0a0a" stroke="#0a0a0a" stroke-width="0.2" textLength="29.68" lengthAdjust="spacingAndGlyphs" >EWO</text>
<text x="373.20" y="466.70" font-size="13.2" fill="#0a0a0a" stroke="#0a0a0a" stroke-width="0.2" textLength="43.31" lengthAdjust="spacingAndGlyphs" >Austria</text>
<text y="466.70" font-size="13.2" fill="#0a0a0a" stroke="#0a0a0a" stroke-width="0.2" ><tspan x="461.20" textLength="43.96" lengthAdjust="spacingAndGlyphs">iShares</tspan> <tspan x="508.55" textLength="31.49" lengthAdjust="spacingAndGlyphs">MSCI</tspan></text>
<text x="572.75" y="466.70" font-size="13.2" fill="#1b2114" stroke="#1b2114" stroke-width="0.2" textLength="25.00" lengthAdjust="spacingAndGlyphs" >17.9</text>
<text x="325.00" y="486.70" font-size="13.2" fill="#0a0a0a" stroke="#0a0a0a" stroke-width="0.2" textLength="27.57" lengthAdjust="spacingAndGlyphs" >EWP</text>
<text x="373.20" y="486.70" font-size="13.2" fill="#0a0a0a" stroke="#0a0a0a" stroke-width="0.2" textLength="33.28" lengthAdjust="spacingAndGlyphs" >Spain</text>
<text y="486.70" font-size="13.2" fill="#0a0a0a" stroke="#0a0a0a" stroke-width="0.2" ><tspan x="461.20" textLength="43.96" lengthAdjust="spacingAndGlyphs">iShares</tspan> <tspan x="508.55" textLength="31.49" lengthAdjust="spacingAndGlyphs">MSCI</tspan></text>
<text x="572.75" y="486.70" font-size="13.2" fill="#152014" stroke="#152014" stroke-width="0.2" textLength="25.00" lengthAdjust="spacingAndGlyphs" >23.1</text>
<text x="325.00" y="506.70" font-size="13.2" fill="#0a0a0a" stroke="#0a0a0a" stroke-width="0.2" textLength="30.37" lengthAdjust="spacingAndGlyphs" >EPOL</text>
<text x="373.20" y="506.70" font-size="13.2" fill="#0a0a0a" stroke="#0a0a0a" stroke-width="0.2" textLength="42.05" lengthAdjust="spacingAndGlyphs" >Poland</text>
<text y="506.70" font-size="13.2" fill="#0a0a0a" stroke="#0a0a0a" stroke-width="0.2" ><tspan x="461.20" textLength="43.96" lengthAdjust="spacingAndGlyphs">iShares</tspan> <tspan x="508.55" textLength="31.49" lengthAdjust="spacingAndGlyphs">MSCI</tspan></text>
<text x="572.75" y="506.70" font-size="13.2" fill="#101e14" stroke="#101e14" stroke-width="0.2" textLength="25.00" lengthAdjust="spacingAndGlyphs" >28.9</text>
<rect x="9.4" y="91.95" width="289.3" height="20.2" fill="none" stroke="#d92a2e" stroke-width="2.1"/><path d="M241.1 91.95H298.7V112.15H241.1" fill="none" stroke="#ee2222" stroke-width="2.1"/>
<text x="502.71" y="526.70" font-size="13.2" fill="#0a0a0a" stroke="#0a0a0a" stroke-width="0.2" font-weight="bold" textLength="50.29" lengthAdjust="spacingAndGlyphs" >Average</text>
<text x="505.95" y="546.70" font-size="13.2" fill="#0a0a0a" stroke="#0a0a0a" stroke-width="0.2" font-weight="bold" textLength="47.05" lengthAdjust="spacingAndGlyphs" >Median</text>
<text x="575.80" y="526.70" font-size="13.2" fill="#0a0a0a" stroke="#0a0a0a" stroke-width="0.2" font-weight="bold" textLength="18.89" lengthAdjust="spacingAndGlyphs" >3.7</text>
<text x="575.80" y="546.70" font-size="13.2" fill="#0a0a0a" stroke="#0a0a0a" stroke-width="0.2" font-weight="bold" textLength="18.89" lengthAdjust="spacingAndGlyphs" >3.4</text>
<rect x="11.70" y="551.00" width="131.10" height="20.00" fill="#dbe8f7" />
<text y="566.80" font-size="13.2" fill="#0a0a0a" stroke="#0a0a0a" stroke-width="0.2" ><tspan x="44.18" textLength="16.64" lengthAdjust="spacingAndGlyphs">G7</tspan> <tspan x="64.12" textLength="47.50" lengthAdjust="spacingAndGlyphs">Country</tspan></text>
<text y="598.60" font-size="13.2" fill="#0a0a0a" stroke="#0a0a0a" stroke-width="0.2" font-style="italic" ><tspan x="16.00" textLength="25.97" lengthAdjust="spacingAndGlyphs">Past</tspan> <tspan x="45.32" textLength="77.09" lengthAdjust="spacingAndGlyphs">performance</tspan> <tspan x="125.75" textLength="9.16" lengthAdjust="spacingAndGlyphs">is</tspan> <tspan x="138.25" textLength="15.20" lengthAdjust="spacingAndGlyphs">no</tspan> <tspan x="156.80" textLength="62.21" lengthAdjust="spacingAndGlyphs">guarantee</tspan> <tspan x="222.36" textLength="12.11" lengthAdjust="spacingAndGlyphs">of</tspan> <tspan x="237.82" textLength="36.83" lengthAdjust="spacingAndGlyphs">future</tspan></text>
<text x="281.70" y="598.60" font-size="13.2" fill="#0a0a0a" stroke="#0a0a0a" stroke-width="0.2" font-style="italic" textLength="43.36" lengthAdjust="spacingAndGlyphs" >results.</text>
<text y="604.8" font-size="18.4" fill="#ffffff" stroke="#969696" stroke-width="2.2" stroke-linejoin="round" style="paint-order:stroke;filter:drop-shadow(0 0 0.6px rgba(0,0,0,0.5))"><tspan x="313.76" textLength="88.28" lengthAdjust="spacingAndGlyphs">Авторские</tspan> <tspan x="410.76" textLength="49.06" lengthAdjust="spacingAndGlyphs">права</tspan> <tspan x="467.73" textLength="13.17" lengthAdjust="spacingAndGlyphs">©</tspan> <tspan x="488.07" textLength="57.08" lengthAdjust="spacingAndGlyphs">Pocket</tspan> <tspan x="552.33" textLength="54.6" lengthAdjust="spacingAndGlyphs">Option</tspan></text>
<text x="281.70" y="598.60" font-size="13.2" fill="#0a0a0a" stroke="#0a0a0a" stroke-width="0.2" font-style="italic" textLength="43.36" lengthAdjust="spacingAndGlyphs" opacity="0.55" aria-hidden="true">results.</text>
</svg>
</body></html>
